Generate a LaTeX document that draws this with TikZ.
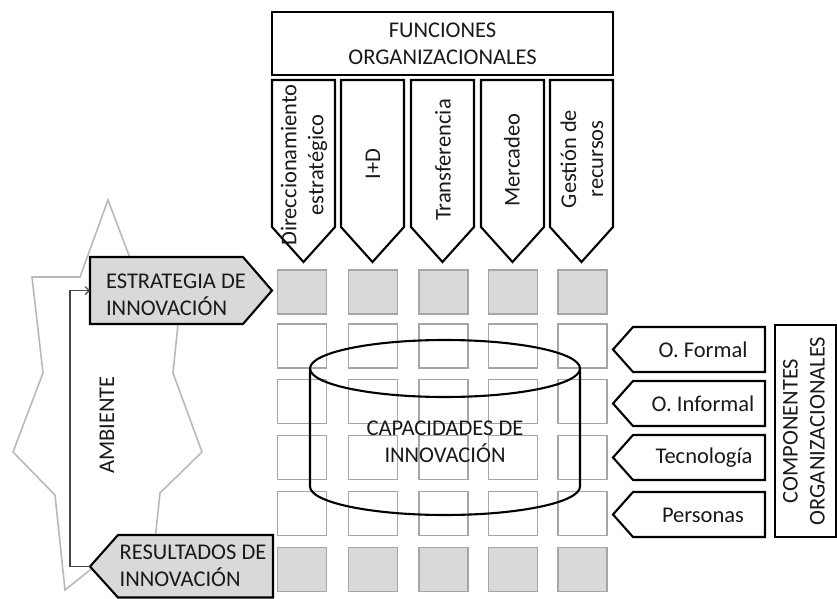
\documentclass[tikz,border=0pt]{standalone}
\usepackage{fontspec}
\setmainfont{Carlito}
\usetikzlibrary{arrows.meta}
\definecolor{textc}{RGB}{25,25,25}
\definecolor{cellb}{RGB}{166,166,166}
\definecolor{cellf}{RGB}{217,217,217}
\definecolor{starc}{RGB}{185,185,185}
\definecolor{linkc}{RGB}{70,70,70}
\begin{document}
\begin{tikzpicture}[x=1pt,y=-1pt,
  txt/.style={font=\fontsize{22.5}{27}\selectfont, text=textc, inner sep=0pt, align=center},
  outl/.style={draw=black, line width=2.1pt, line join=miter},
  cell/.style={draw=cellb, line width=1.8pt, minimum width=49pt, minimum height=44pt, inner sep=0pt},
  fullcell/.style={cell, fill=cellf},
  starline/.style={draw=starc, line width=1.6pt, line join=miter},
  link/.style={draw=linkc, line width=1.2pt, -{Straight Barb[length=4pt,width=8pt]}}]
\useasboundingbox (0,0) rectangle (837,599);
% environment shape
\draw[starline] (108,200) -- (130,258) -- (178,324) -- (173,373) -- (202,452) -- (160,493)
  -- (155,540) -- (90,570) -- (65,590) -- (55,495) -- (13,452) -- (43,373) -- (32,277)
  -- (80,277) -- cycle;
\node[txt, rotate=90] (amb) at (107,425) {AMBIENTE};
% top box
\draw[outl] (272,12) rectangle (613,75);
\node[txt] (fun) at (442.5,43.5) {FUNCIONES\\ORGANIZACIONALES};
% columns
\foreach \L in {272,341,411,481,550}{
  \draw[outl] (\L,80) -- (\L+63,80) -- (\L+63,227) -- (\L+31.5,262) -- (\L,227) -- cycle;
}
\node[txt, rotate=90] (c1) at (304,165) {Direccionamiento\\estratégico};
\node[txt, rotate=90] (c2) at (373,164) {I+D};
\node[txt, rotate=90] (c3) at (443,160) {Transferencia};
\node[txt, rotate=90] (c4) at (512,160) {Mercadeo};
\node[txt, rotate=90] (c5) at (582,159) {Gestión de\\recursos};
% grid
\foreach \x [count=\c] in {302,373,443.5,513,582.5}{
  \node[fullcell] (g1\c) at (\x,292) {};
  \node[cell] (g2\c) at (\x,346) {};
  \node[cell] (g3\c) at (\x,401.5) {};
  \node[cell] (g4\c) at (\x,457.5) {};
  \node[cell] (g5\c) at (\x,513.5) {};
  \node[fullcell] (g6\c) at (\x,569.5) {};
}
% cylinder
\draw[outl] (445,368.5) ellipse [x radius=135, y radius=28.5];
\draw[outl] (310,368.5) -- (310,486.5) arc[start angle=180, end angle=0, x radius=135, y radius=28.5] -- (580,368.5);
\node[txt] (cap) at (445,442) {CAPACIDADES DE\\INNOVACIÓN};
% strategy / results
\draw[outl, fill=cellf] (90,257) -- (243,257) -- (272,290.5) -- (243,324) -- (90,324) -- cycle;
\coordinate (estin) at (90,290.5);
\node[txt, align=left] (est) at (176,295) {ESTRATEGIA DE\\INNOVACIÓN};
\draw[outl, fill=cellf] (90,566.5) -- (118,535) -- (273,535) -- (273,597.5) -- (118,597.5) -- cycle;
\coordinate (resout) at (90,566.5);
\node[txt, align=left] (res) at (193,566) {RESULTADOS DE\\INNOVACIÓN};
\draw[link] (resout) -- ++(-20,0) |- (estin);
% components
\foreach \a/\b in {327/372,381/426,435/480,492/537}{
  \draw[outl] (613,{(\a+\b)/2}) -- (633,\a) -- (765,\a) -- (765,\b) -- (633,\b) -- cycle;
}
\node[txt] (k1) at (703,350) {O. Formal};
\node[txt] (k2) at (703,404) {O. Informal};
\node[txt] (k3) at (704,458) {Tecnología};
\node[txt] (k4) at (703,515) {Personas};
\draw[outl] (775,325) rectangle (835.8,537);
\node[txt, rotate=90] (comp) at (804,431) {COMPONENTES\\ORGANIZACIONALES};
\end{tikzpicture}
\end{document}
